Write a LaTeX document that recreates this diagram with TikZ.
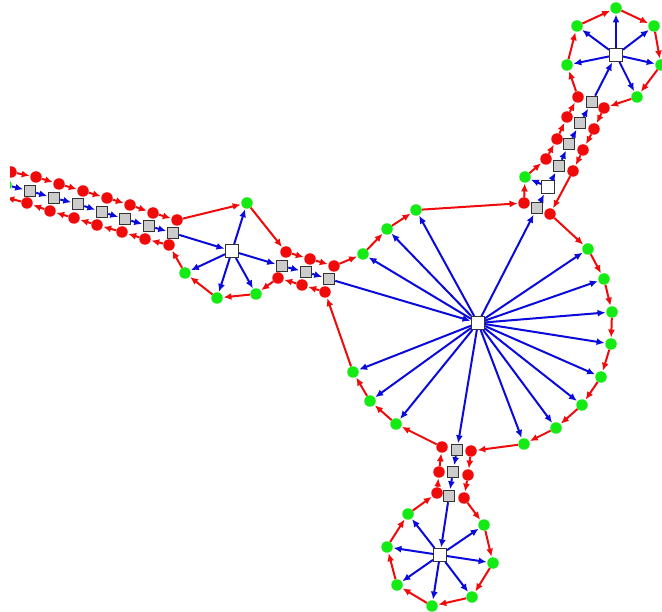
\documentclass[tikz,border=0pt]{standalone}
\usetikzlibrary{arrows.meta}
\definecolor{nred}{RGB}{240,10,10}
\definecolor{ngreen}{RGB}{20,235,20}
\definecolor{nblue}{RGB}{10,10,220}
\tikzset{
  rd/.style={circle,fill=nred,inner sep=0pt,minimum size=11.5pt},
  gn/.style={circle,fill=ngreen,inner sep=0pt,minimum size=11.5pt},
  gs/.style={rectangle,fill=black!20,draw=black!80,line width=1pt,inner sep=0pt,minimum size=11.5pt},
  ws/.style={rectangle,fill=white,draw=black!80,line width=1pt,inner sep=0pt,minimum size=13pt},
  ra/.style={draw=nred,line width=2pt,-{Latex[length=8pt,width=7pt]},shorten >=0.5pt},
  ba/.style={draw=nblue,line width=2pt,-{Latex[length=8pt,width=7pt]},shorten >=0.5pt},
}
\begin{document}
\begin{tikzpicture}[x=1pt,y=-1pt]
\fill[white] (0,0) rectangle (662,612);
\useasboundingbox (0,0) rectangle (662,612);
\clip (10,0) rectangle (662,612);
% red nodes
\foreach \n/\x/\y in {L1/11/172,L2/36/177,L3/59/184,L4/83/191,L5/107/198,L6/130/205,L7/153/213,L8/177/220,
  W0/0/196,W1/27/203,W2/50/211,W3/74/218,W4/97/225,W5/122/232,W6/145/239,W7/169/245,
  M1/286/252,M2/310/259,M3/334/266,N1/278/278,N2/302/285,N3/325/292,
  T0/524/203,T0b/550/214,TL1/546/159,TL2/557/139,TL3/567/117,TL4/578/97,
  TR1/573/171,TR2/583/150,TR3/594/129,TR4/604/108,
  D0l/442/447,D0r/471/451,D1l/439/472,D1r/468/475,D2l/437/493,D2r/464/498}
  \node[rd] (\n) at (\x,\y) {};
% green nodes
\foreach \n/\x/\y in {G0/6/185,G1/247/203,G2/185/273,G3/217/298,G4/256/294,
  B1/363/254,B2/387/229,B3/416/210,B4/588/249,B5/604/279,B6/612/312,B7/611/344,B8/601/377,
  B9/582/405,B10/556/428,B11/524/444,B12/396/424,B13/370/401,B14/353/372,
  TG/525/177,H1/567/65,H2/577/26,H3/616/8,H4/654/26,H5/661/65,H6/637/97,
  E1/484/525,E2/493/563,E3/472/597,E4/432/606,E5/397/585,E6/387/547,E7/408/514}
  \node[gn] (\n) at (\x,\y) {};
% gray squares
\foreach \n/\x/\y in {S1/30/191,S2/54/198,S3/78/204,S4/102/212,S5/125/219,S6/149/226,S7/173/233,
  Sm1/282/266,Sm2/306/272,Sm3/329/279,
  TS0/537/208,TS1/559/166,TS2/569/144,TS3/580/123,TS4/592/102,
  DS0/457/450,DS1/453/472,DS2/449/496}
  \node[gs] (\n) at (\x,\y) {};
% white squares
\foreach \n/\x/\y in {C1/232/251,C2/478/323,TW/548/187,TC/616/55,DC/440/555}
  \node[ws] (\n) at (\x,\y) {};
% backbone (red)
\foreach \a/\b in {L1/L2,L2/L3,L3/L4,L4/L5,L5/L6,L6/L7,L7/L8,L8/G1,G1/M1,M1/M2,M2/M3,M3/B1,B1/B2,B2/B3,B3/T0,
  T0/TG,TG/TL1,TL1/TL2,TL2/TL3,TL3/TL4,TL4/H1,H1/H2,H2/H3,H3/H4,H4/H5,H5/H6,H6/TR4,TR4/TR3,TR3/TR2,TR2/TR1,TR1/T0b,
  T0b/B4,B4/B5,B5/B6,B6/B7,B7/B8,B8/B9,B9/B10,B10/B11,B11/D0r,D0r/D1r,D1r/D2r,D2r/E1,
  E1/E2,E2/E3,E3/E4,E4/E5,E5/E6,E6/E7,E7/D2l,D2l/D1l,D1l/D0l,D0l/B12,B12/B13,B13/B14,B14/N3,
  N3/N2,N2/N1,N1/G4,G4/G3,G3/G2,G2/W7,W7/W6,W6/W5,W5/W4,W4/W3,W3/W2,W2/W1,W1/W0}
  \draw[ra] (\a) -- (\b);
% tree (blue)
\foreach \a/\b in {G0/S1,S1/S2,S2/S3,S3/S4,S4/S5,S5/S6,S6/S7,S7/C1,
  C1/G1,C1/G2,C1/G3,C1/G4,C1/Sm1,Sm1/Sm2,Sm2/Sm3,Sm3/C2,
  C2/B1,C2/B2,C2/B3,C2/TS0,C2/B4,C2/B5,C2/B6,C2/B7,C2/B8,C2/B9,C2/B10,C2/B11,C2/DS0,C2/B12,C2/B13,C2/B14,
  TS0/TW,TW/TG,TW/TS1,TS1/TS2,TS2/TS3,TS3/TS4,TS4/TC,
  TC/H1,TC/H2,TC/H3,TC/H4,TC/H5,TC/H6,
  DS0/DS1,DS1/DS2,DS2/DC,DC/E1,DC/E2,DC/E3,DC/E4,DC/E5,DC/E6,DC/E7}
  \draw[ba] (\a) -- (\b);
\end{tikzpicture}
\end{document}
